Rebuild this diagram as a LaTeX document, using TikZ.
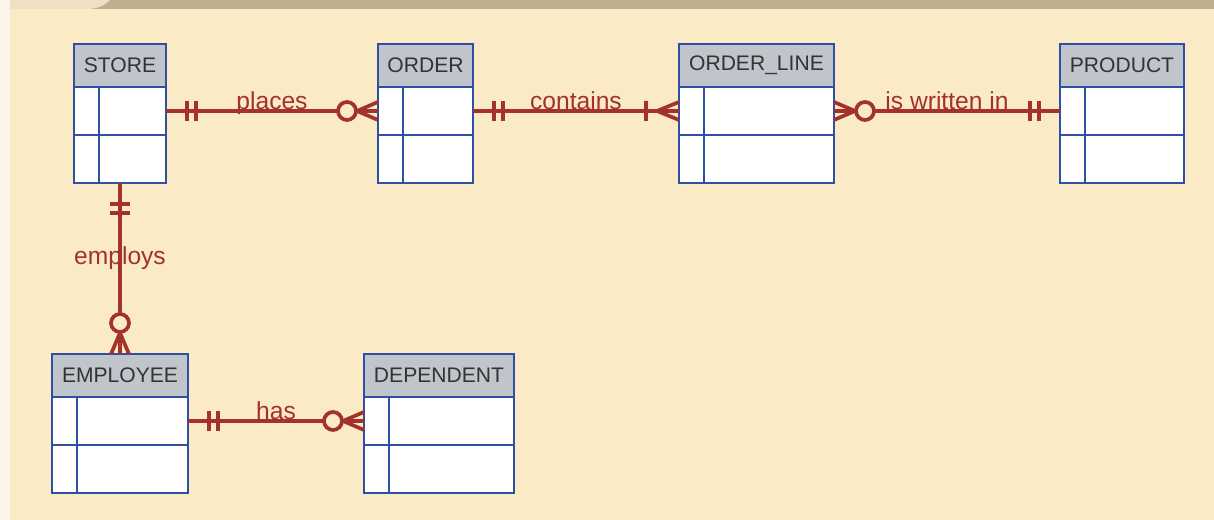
\documentclass[tikz,border=0pt]{standalone}
\usepackage{fontspec}
\setmainfont{Liberation Sans}
\usepackage{xcolor}
\usetikzlibrary{positioning, calc}

\definecolor{bgc}{HTML}{FAEBC6}
\definecolor{stripc}{HTML}{FAF6EA}
\definecolor{bandc}{HTML}{BDAE8D}
\definecolor{tabc}{HTML}{EEE1C2}
\definecolor{hdrc}{HTML}{C0C5CB}
\definecolor{entc}{HTML}{2E4FA6}
\definecolor{relc}{HTML}{A3322A}

% entity: id, left, top, width, title
\newcommand{\entity}[5]{%
  \node[hdr, minimum width=#4*0.02cm, anchor=north west] (#1) at (#2,-#3) {#5};
  \node[row, minimum width=#4*0.02cm, anchor=north] (#1-a) at (#1.south) {};
  \node[row, minimum width=#4*0.02cm, anchor=north] (#1-b) at (#1-a.south) {};
  \draw[ent] ([xshift=0.5cm]#1-a.north west) -- ([xshift=0.5cm]#1-b.south west);
}

\begin{document}
\begin{tikzpicture}[
  x=0.02cm, y=0.02cm,
  hdr/.style={draw=entc, fill=hdrc, line width=1.4pt, inner sep=0pt, outer sep=0pt,
    minimum height=0.86cm, text=black!80, font=\fontsize{12}{14}\selectfont},
  row/.style={draw=entc, fill=white, line width=1.4pt, inner sep=0pt, outer sep=0pt,
    minimum height=0.96cm},
  ent/.style={draw=entc, line width=1.4pt},
  rel/.style={draw=relc, line width=2.1pt},
  lbl/.style={text=relc, anchor=base, yshift=0.6pt, inner sep=0pt, font=\fontsize{14}{16}\selectfont},
  onlyone/.pic={\draw (21,-10) -- (21,10) (30,-10) -- (30,10);},
  zeromany/.pic={\draw (0,9) -- (21,0) -- (0,-9); \draw[fill=bgc] (31,0) circle (9);},
  onemany/.pic={\draw (0,9) -- (22,0) -- (0,-9) (33,-10) -- (33,10);}
]
\useasboundingbox (0,0) rectangle (1214,-520);
% background
\fill[bgc] (0,0) rectangle (1214,-520);
\fill[stripc] (0,0) rectangle (10,-520);
\fill[bandc] (10,0) rectangle (1214,-9);
\fill[tabc] (10,0) -- (110,0) .. controls (104,-6) and (97,-9) .. (86,-9) -- (10,-9) -- cycle;

% entities
\entity{store}{74}{44}{92}{STORE}
\entity{order}{378}{44}{95}{ORDER}
\entity{oline}{679}{44}{155}{ORDER\_LINE}
\entity{product}{1060}{44}{124}{PRODUCT}
\entity{employee}{52}{354}{136}{EMPLOYEE}
\entity{dependent}{364}{354}{150}{DEPENDENT}

% relationships
\draw[rel] (store-a.east) -- node[lbl] {places} (order-a.west);
\draw[rel] (order-a.east) -- node[lbl] {contains} (oline-a.west);
\draw[rel] (oline-a.east) -- node[lbl] {is written in} (product-a.west);
\draw[rel] (store-b.south) -- node[lbl, yshift=1.5pt] {employs} (employee.north);
\draw[rel] (employee-a.east) -- node[lbl] {has} (dependent-a.west);

% cardinalities
\pic[rel] at (store-a.east) {onlyone};
\pic[rel, rotate=180] at (order-a.west) {zeromany};
\pic[rel] at (order-a.east) {onlyone};
\pic[rel, rotate=180] at (oline-a.west) {onemany};
\pic[rel] at (oline-a.east) {zeromany};
\pic[rel, rotate=180] at (product-a.west) {onlyone};
\pic[rel, rotate=-90] at (store-b.south) {onlyone};
\pic[rel, rotate=90] at (employee.north) {zeromany};
\pic[rel] at (employee-a.east) {onlyone};
\pic[rel, rotate=180] at (dependent-a.west) {zeromany};
\end{tikzpicture}
\end{document}
